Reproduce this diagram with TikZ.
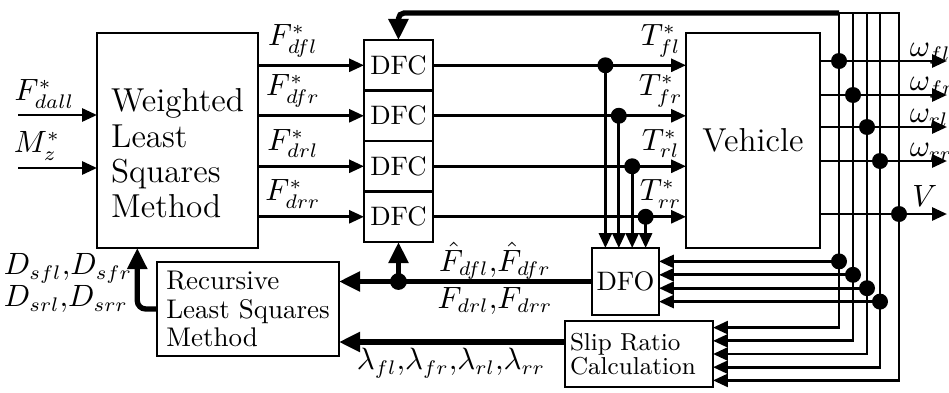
\documentclass[tikz,border=0pt]{standalone}
\usepackage{amsmath,amssymb}
\usepackage{tikz}
\usetikzlibrary{arrows.meta,positioning,calc}

\begin{document}
\begin{tikzpicture}[
  x=1cm,y=1cm,
  sig/.style={
    -{Triangle[length=5.3pt,width=4.6pt]},
    line width=1pt
  },
  fat/.style={
    -{Triangle[length=7.5pt,width=6.8pt]},
    line width=1.9pt
  },
  block/.style={
    draw,
    line width=1pt,
    outer sep=0pt,
    inner sep=0pt,
    fill=white
  },
  bigtext/.style={
    align=left,
    font=\fontsize{11.8}{12.5}\selectfont
  },
  dfcbox/.style={
    block,
    minimum width=0.8625cm,
    minimum height=0.63125cm,
    font=\fontsize{9.5}{11}\selectfont
  },
  lbl/.style={
    font=\fontsize{10.5}{12}\selectfont,
    inner sep=1pt
  }
]

\useasboundingbox (0,0) rectangle (11.8625,4.9);

% -------------------------------------------------
% Blocks
% -------------------------------------------------
\node[block, minimum width=2.0125cm, minimum height=2.6875cm] (wlsm) at (2.219,3.144) {};
\node[bigtext] (wlsmtext) at ([yshift=-0.16cm]wlsm.center)
{Weighted\\Least\\Squares\\Method};

\node[dfcbox] (dfc1) at (4.981,4.084) {DFC};
\node[dfcbox, below=0pt of dfc1] (dfc2) {DFC};
\node[dfcbox, below=0pt of dfc2] (dfc3) {DFC};
\node[dfcbox, below=0pt of dfc3] (dfc4) {DFC};

\node[block, minimum width=1.675cm, minimum height=2.6875cm,
  font=\fontsize{11.8}{12.5}\selectfont] (veh) at (9.4125,3.144) {Vehicle};

\node[block, minimum size=0.8375cm, font=\fontsize{9.5}{11}\selectfont]
  (dfo) at (7.81875,1.38125) {DFO};

\node[block, minimum width=1.85cm, minimum height=0.825cm, text width=1.725cm,
  align=left, font=\fontsize{8.7}{8.6}\selectfont] (slip) at (7.9875,0.475)
{Slip Ratio\\Calculation};

\node[block, minimum width=2.275cm, minimum height=1.175cm, align=left,
  font=\fontsize{9.6}{10.1}\selectfont] (rls) at (3.1,1.0375)
{Recursive\\Least Squares\\Method};

% -------------------------------------------------
% Inputs
% -------------------------------------------------
\coordinate (fin) at (0.225,3.4625);
\coordinate (min) at (0.225,2.8);
\draw[sig] (fin) -- (fin -| wlsm.west);
\draw[sig] (min) -- (min -| wlsm.west);
\node[lbl] (fdall) at (0.556,3.725) {$F^*_{dall}$};
\node[lbl] (mz) at (0.4625,3.075) {$M^*_z$};

% WLSM -> DFC
\draw[sig] (dfc1.west -| wlsm.east) -- node[lbl, pos=0.33, above=1.5pt] (fdfl) {$F^*_{dfl}$} (dfc1.west);
\draw[sig] (dfc2.west -| wlsm.east) -- node[lbl, pos=0.33, above=1.5pt] (fdfr) {$F^*_{dfr}$} (dfc2.west);
\draw[sig] (dfc3.west -| wlsm.east) -- node[lbl, pos=0.33, above=1.5pt] (fdrl) {$F^*_{drl}$} (dfc3.west);
\draw[sig] (dfc4.west -| wlsm.east) -- node[lbl, pos=0.33, above=1.5pt] (fdrr) {$F^*_{drr}$} (dfc4.west);

% DFC -> Vehicle
\draw[sig] (dfc1.east) -- node[lbl, pos=0.9, above=1.5pt] (tfl) {$T^*_{fl}$} (dfc1.east -| veh.west);
\draw[sig] (dfc2.east) -- node[lbl, pos=0.9, above=1.5pt] (tfr) {$T^*_{fr}$} (dfc2.east -| veh.west);
\draw[sig] (dfc3.east) -- node[lbl, pos=0.9, above=1.5pt] (trl) {$T^*_{rl}$} (dfc3.east -| veh.west);
\draw[sig] (dfc4.east) -- node[lbl, pos=0.9, above=1.5pt] (trr) {$T^*_{rr}$} (dfc4.east -| veh.west);

% torques into DFO
\coordinate (dfoa) at ($(dfo.north west)!0.2!(dfo.north east)$);
\coordinate (dfob) at ($(dfo.north west)!0.4!(dfo.north east)$);
\coordinate (dfoc) at ($(dfo.north west)!0.6!(dfo.north east)$);
\coordinate (dfod) at ($(dfo.north west)!0.8!(dfo.north east)$);
\draw[sig] (dfoa |- dfc1.east) -- (dfoa);
\draw[sig] (dfob |- dfc2.east) -- (dfob);
\draw[sig] (dfoc |- dfc3.east) -- (dfoc);
\draw[sig] (dfod |- dfc4.east) -- (dfod);
\fill (dfoa |- dfc1.east) circle (0.1);
\fill (dfob |- dfc2.east) circle (0.1);
\fill (dfoc |- dfc3.east) circle (0.1);
\fill (dfod |- dfc4.east) circle (0.1);

% -------------------------------------------------
% Vehicle outputs
% -------------------------------------------------
\coordinate (wfl) at (11.8375,4.1375);
\coordinate (wfr) at (11.8375,3.7125);
\coordinate (wrl) at (11.8375,3.3125);
\coordinate (wrr) at (11.8375,2.8875);
\coordinate (vout) at (11.8375,2.225);
\draw[sig] (veh.east |- wfl) -- (wfl);
\draw[sig] (veh.east |- wfr) -- (wfr);
\draw[sig] (veh.east |- wrl) -- (wrl);
\draw[sig] (veh.east |- wrr) -- (wrr);
\draw[sig] (veh.east |- vout) -- (vout);
\node[lbl, anchor=base west] (lwfl) at (11.33,4.2) {$\omega_{fl}$};
\node[lbl, anchor=base west] (lwfr) at (11.33,3.775) {$\omega_{fr}$};
\node[lbl, anchor=base west] (lwrl) at (11.33,3.375) {$\omega_{rl}$};
\node[lbl, anchor=base west] (lwrr) at (11.33,2.95) {$\omega_{rr}$};
\node[lbl, anchor=base west] (lv) at (11.3625,2.325) {$V$};

% feedback bus
\coordinate (v1) at (10.4875,4.7375);
\coordinate (v2) at (10.6625,4.7375);
\coordinate (v3) at (10.8375,4.7375);
\coordinate (v4) at (11.0,4.7375);
\coordinate (v5) at (11.2375,4.7375);

\coordinate (sa) at ($(slip.north east)!0.1!(slip.south east)$);
\coordinate (sb) at ($(slip.north east)!0.3!(slip.south east)$);
\coordinate (sc) at ($(slip.north east)!0.5!(slip.south east)$);
\coordinate (sd) at ($(slip.north east)!0.7!(slip.south east)$);
\coordinate (se) at ($(slip.north east)!0.9!(slip.south east)$);

\coordinate (da) at ($(dfo.north east)!0.2!(dfo.south east)$);
\coordinate (db) at ($(dfo.north east)!0.4!(dfo.south east)$);
\coordinate (dc) at ($(dfo.north east)!0.6!(dfo.south east)$);
\coordinate (dd) at ($(dfo.north east)!0.8!(dfo.south east)$);

\draw[sig] (v1) |- (sa);
\draw[sig] (v2) |- (sb);
\draw[sig] (v3) |- (sc);
\draw[sig] (v4) |- (sd);
\draw[sig] (v1) -- (v5) |- (se);

\draw[sig] (v1 |- da) -- (da);
\draw[sig] (v2 |- db) -- (db);
\draw[sig] (v3 |- dc) -- (dc);
\draw[sig] (v4 |- dd) -- (dd);

\fill (v1 |- wfl) circle (0.1);
\fill (v2 |- wfr) circle (0.1);
\fill (v3 |- wrl) circle (0.1);
\fill (v4 |- wrr) circle (0.1);
\fill (v5 |- vout) circle (0.1);
\fill (v1 |- da) circle (0.1);
\fill (v2 |- db) circle (0.1);
\fill (v3 |- dc) circle (0.1);
\fill (v4 |- dd) circle (0.1);

\draw[fat, rounded corners=2pt] (v1) -| (dfc1.north);

% -------------------------------------------------
% Estimation loop
% -------------------------------------------------
\draw[fat] (dfo.west) -- (dfo.west -| rls.east);
\coordinate (fj) at (dfc4.south |- dfo.west);
\fill (fj) circle (0.105);
\draw[fat] (fj) -- (dfc4.south);
\node[lbl] (fhat) at (6.1875,1.64) {$\hat F_{dfl}{,}\hat F_{dfr}$};
\node[lbl] (fdr) at (6.1875,1.14) {$F_{drl}{,}F_{drr}$};

\coordinate (slipout) at ([yshift=0.15cm]slip.west);
\draw[fat] (slipout) -- (slipout -| rls.east);
\node[lbl] (lam) at (5.6375,0.3625) {$\lambda_{fl}{,}\lambda_{fr}{,}\lambda_{rl}{,}\lambda_{rr}$};

\coordinate (wlsmin) at ($(wlsm.south west)!0.25!(wlsm.south east)$);
\draw[fat, rounded corners=3pt] (rls.west) -| (wlsmin);
\node[lbl, align=left, font=\fontsize{10.5}{9.6}\selectfont] (dlab) at (0.85,1.3625)
{$D_{sfl}{,}D_{sfr}$\\$D_{srl}{,}D_{srr}$};

\end{tikzpicture}
\end{document}
